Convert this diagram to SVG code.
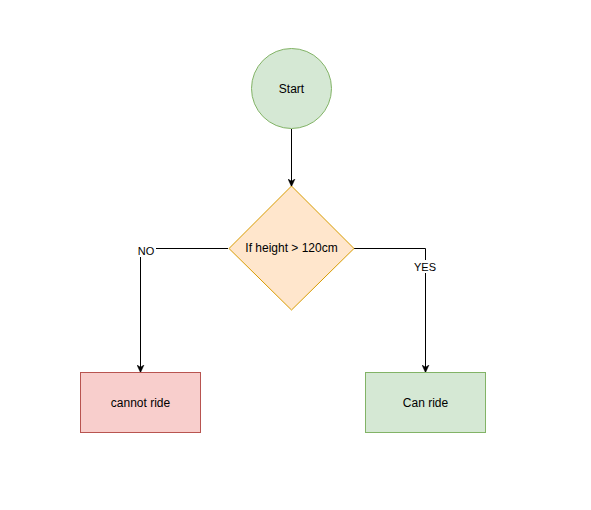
<svg xmlns="http://www.w3.org/2000/svg" width="591" height="510" viewBox="0 0 591 510">
  <style>
    text { font-family: "Liberation Sans", Arial, Helvetica, sans-serif; font-size: 12px; fill: #000; text-anchor: middle; dominant-baseline: central; }
    .lbl { font-size: 11px; }
    .edge { fill: none; stroke: #000; stroke-width: 1; }
    .green { fill: #d5e8d4; stroke: #82b366; stroke-width: 1; }
    .orange { fill: #ffe6cc; stroke: #d79b00; stroke-width: 1; }
    .red { fill: #f8cecc; stroke: #b85450; stroke-width: 1; }
  </style>
  <defs>
    <marker id="arrow" viewBox="0 0 10 10" refX="9" refY="5" markerWidth="8" markerHeight="8" markerUnits="userSpaceOnUse" orient="auto">
      <path d="M0,0.5 L10,5 L0,9.5 L3,5 Z" fill="#000" stroke="#000" stroke-width="0.5"/>
    </marker>
  </defs>
  <rect width="591" height="510" fill="#fff"/>

  <g id="connectors">
    <path class="edge" d="M291.5,129 L291.5,186" marker-end="url(#arrow)"/>
    <path class="edge" d="M228,248.5 L140.5,248.5 L140.5,372" marker-end="url(#arrow)"/>
    <path class="edge" d="M354,248.5 L425.5,248.5 L425.5,372" marker-end="url(#arrow)"/>
    <rect x="136" y="244" width="20" height="13" fill="#fff"/>
    <text class="lbl" x="146" y="251">NO</text>
    <rect x="411" y="260" width="29" height="13" fill="#fff"/>
    <text class="lbl" x="425" y="267">YES</text>
  </g>

  <g id="start">
    <circle class="green" cx="291.5" cy="88.5" r="40"/>
    <text x="291.5" y="88.5">Start</text>
  </g>

  <g id="decision">
    <path class="orange" d="M291.5,186 L354,248.5 L291.5,310 L229,248.5 Z"/>
    <text x="291.5" y="248">If height &gt; 120cm</text>
  </g>

  <g id="cannot-ride">
    <rect class="red" x="80.5" y="372.5" width="120" height="60"/>
    <text x="140.5" y="402.5">cannot ride</text>
  </g>

  <g id="can-ride">
    <rect class="green" x="365.5" y="372.5" width="120" height="60"/>
    <text x="425.5" y="402.5">Can ride</text>
  </g>
</svg>
